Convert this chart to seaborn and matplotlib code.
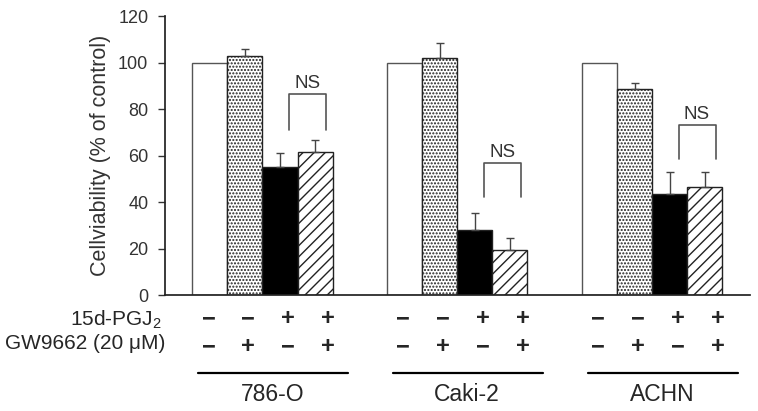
import matplotlib
matplotlib.use("Agg")
import matplotlib.pyplot as plt
import seaborn as sns
import pandas as pd

sns.set_theme(style="ticks")
plt.rcParams["font.family"] = ["Liberation Sans", "DejaVu Sans"]
plt.rcParams["mathtext.default"] = "regular"
plt.rcParams["hatch.linewidth"] = 1.0

# data
cells = ["786-O", "Caki-2", "ACHN"]
treatments = ["control", "GW9662", "15d-PGJ2", "15d-PGJ2 + GW9662"]
viability = {
    "786-O": [100, 103, 55, 61.5],
    "Caki-2": [100, 102, 28, 19.5],
    "ACHN": [100, 88.5, 43.5, 46.3],
}
sem = {
    "786-O": [0, 3, 6.2, 5.2],
    "Caki-2": [0, 6.2, 7.4, 5],
    "ACHN": [0, 2.5, 9.3, 6.7],
}
pgj_signs = ["−", "−", "+", "+"]
gw_signs = ["−", "+", "−", "+"]
ns_top = [86.5, 56.6, 73]
ns_bottom = [71, 42.3, 58.4]

rows = []
for c in cells:
    for t, v, e in zip(treatments, viability[c], sem[c]):
        rows.append([c, t, v, e])
df = pd.DataFrame(rows, columns=["cell", "treatment", "viability", "sem"])

fig = plt.figure(figsize=(7.58, 4.11), dpi=100)
ax = fig.add_axes([0.2177, 0.2822, 0.989 - 0.2177, 0.961 - 0.2822])

sns.barplot(data=df, x="cell", y="viability", hue="treatment",
            order=cells, hue_order=treatments,
            palette=["white", "white", "black", "white"],
            width=0.72, errorbar=None, legend=False,
            edgecolor="#222222", linewidth=1.0, ax=ax)

hatches = ["", ".....", "", "///"]
for cont, h, t in zip(ax.containers, hatches, treatments):
    for bar, c in zip(cont, cells):
        bar.set_hatch(h)
        if t == "control":
            bar.set_edgecolor("#555555")
        x = bar.get_x() + bar.get_width() / 2
        row = df[(df.cell == c) & (df.treatment == t)].iloc[0]
        if row["sem"] > 0:
            ax.errorbar(x, row["viability"], yerr=[[0], [row["sem"]]],
                        fmt="none", ecolor="#444444", elinewidth=1.0,
                        capsize=3, capthick=1.0)

# NS brackets
for i, c in enumerate(cells):
    b1 = ax.containers[2][i]
    b2 = ax.containers[3][i]
    x1 = b1.get_x() + b1.get_width() / 2 + 0.045
    x2 = b2.get_x() + b2.get_width() / 2 + 0.055
    ax.plot([x1, x1, x2, x2], [ns_bottom[i], ns_top[i], ns_top[i], ns_bottom[i]],
            color="#555555", lw=1.2)
    ax.text((x1 + x2) / 2, ns_top[i] + 1, "NS", ha="center", va="bottom",
            fontsize=13.5, color="#333333")

ax.set_ylim(0, 120)
ax.set_yticks(range(0, 121, 20))
ax.set_xlim(-0.5, 2.5)
ax.set_xlabel("")
ax.set_xticks([])
ax.set_ylabel("Cellviability (% of control)", fontsize=15.5, color="#333333", labelpad=5)
ax.tick_params(axis="y", labelsize=13, length=5, width=1, pad=7, colors="#333333")
sns.despine(ax=ax)
ax.spines["left"].set_color("#222222")
ax.spines["bottom"].set_color("#222222")

# treatment table below the axis
trans = ax.get_xaxis_transform()
for i, c in enumerate(cells):
    for k in range(4):
        xs = i + (k - 1.5) * 0.205 + 0.03
        ax.text(xs, -0.085, pgj_signs[k], transform=trans, ha="center", va="center",
                fontsize=17, fontweight="bold", clip_on=False)
        ax.text(xs, -0.185, gw_signs[k], transform=trans, ha="center", va="center",
                fontsize=17, fontweight="bold", clip_on=False)
    ax.plot([i - 0.33, i + 0.44], [-0.28, -0.28], transform=trans,
            color="black", lw=1.6, clip_on=False)
    ax.text(i + 0.05, -0.355, c, transform=trans, ha="center", va="center",
            fontsize=16.5, clip_on=False)

fig.text(162 / 758, 1 - 320 / 411, "15d-PGJ$_2$", ha="right", va="center", fontsize=15)
fig.text(165 / 758, 1 - 343 / 411, "GW9662 (20 μM)", ha="right", va="center", fontsize=15)

fig.savefig("out.png", dpi=100)
